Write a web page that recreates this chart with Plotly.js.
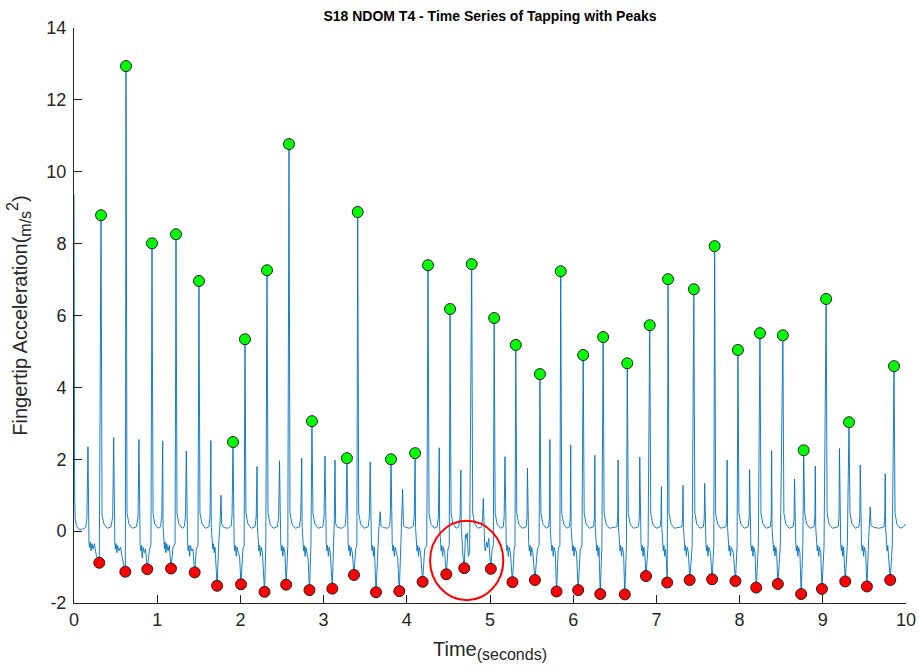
<!DOCTYPE html>
<html>
<head>
<meta charset="utf-8">
<script src="https://cdn.plot.ly/plotly-3.0.1.min.js"></script>
<style>
html,body{margin:0;padding:0;background:#fff;}
#chart{width:919px;height:670px;}
</style>
</head>
<body>
<div id="chart"></div>
<script>
// ---- Data ----
// Acceleration signal as [time (s), acceleration (m/s^2)] samples
const signalPts = [
[0.000,9.35],[0.004,3.0],[0.008,0.9],[0.015,0.35],[0.03,0.15],[0.06,0.05],[0.10,0.05],[0.14,0.10],[0.155,0.35],
[0.168,2.35],[0.173,0.10],[0.18,-0.35],[0.188,-0.45],[0.196,-0.30],[0.205,-0.55],[0.215,-0.35],[0.228,-0.50],[0.245,-0.35],[0.27,-0.70],[0.304,-0.88],[0.325,8.79],
[0.337,0.45],[0.36,0.20],[0.40,0.08],[0.445,0.12],[0.465,0.40],[0.477,2.61],
[0.482,0.10],[0.49,-0.30],[0.498,-0.50],[0.506,-0.35],[0.515,-0.60],[0.525,-0.40],[0.54,-0.55],[0.56,-0.45],[0.585,-0.80],[0.617,-1.13],[0.625,12.94],
[0.637,0.50],[0.66,0.20],[0.70,0.08],[0.75,0.12],[0.77,0.40],[0.781,2.55],
[0.786,0.10],[0.795,-0.35],[0.803,-0.55],[0.812,-0.40],[0.82,-0.75],[0.83,-0.45],[0.845,-0.60],[0.86,-0.50],[0.881,-1.06],[0.905,-0.55],[0.925,-0.35],[0.9375,8.01],
[0.95,0.50],[0.97,0.20],[1.01,0.08],[1.04,0.12],[1.055,0.40],[1.066,2.51],
[1.071,0.10],[1.08,-0.35],[1.088,-0.50],[1.096,-0.30],[1.105,-0.60],[1.115,-0.35],[1.13,-0.55],[1.145,-0.40],[1.166,-1.04],[1.19,-0.45],[1.215,-0.35],[1.226,8.26],
[1.238,0.50],[1.26,0.20],[1.30,0.08],[1.325,0.12],[1.34,0.40],[1.35,2.23],
[1.355,0.10],[1.365,-0.35],[1.373,-0.55],[1.381,-0.40],[1.39,-0.70],[1.40,-0.40],[1.415,-0.55],[1.43,-0.50],[1.45,-1.15],[1.47,-0.50],[1.49,-0.40],[1.502,6.96],
[1.514,0.50],[1.54,0.20],[1.58,0.08],[1.62,0.12],[1.635,0.40],[1.645,2.52],
[1.65,0.10],[1.66,-0.30],[1.668,-0.50],[1.676,-0.35],[1.685,-0.60],[1.695,-0.45],[1.705,-0.80],[1.72,-1.52],[1.74,-0.30],[1.755,0.20],[1.767,1.00],[1.775,0.20],[1.80,0.10],[1.85,0.08],[1.89,0.15],[1.90,0.45],[1.911,2.48],
[1.916,0.10],[1.925,-0.35],[1.933,-0.55],[1.941,-0.40],[1.95,-0.70],[1.96,-0.45],[1.975,-0.60],[1.99,-0.70],[2.007,-1.48],[2.03,-0.50],[2.045,-0.40],[2.055,5.34],
[2.067,0.50],[2.09,0.20],[2.13,0.08],[2.175,0.12],[2.19,0.40],[2.20,1.80],
[2.205,0.10],[2.215,-0.35],[2.223,-0.55],[2.231,-0.40],[2.24,-0.70],[2.25,-0.45],[2.265,-0.60],[2.29,-1.69],[2.305,-0.50],[2.32,7.26],
[2.332,0.50],[2.355,0.20],[2.395,0.08],[2.445,0.12],[2.46,0.40],[2.47,1.96],
[2.475,0.10],[2.485,-0.35],[2.493,-0.55],[2.501,-0.40],[2.51,-0.70],[2.52,-0.45],[2.535,-0.60],[2.55,-1.49],[2.57,-0.40],[2.584,10.77],
[2.596,0.50],[2.62,0.20],[2.66,0.08],[2.71,0.12],[2.725,0.40],[2.737,2.03],
[2.742,0.10],[2.752,-0.35],[2.76,-0.55],[2.768,-0.40],[2.777,-0.70],[2.787,-0.45],[2.80,-0.60],[2.815,-0.80],[2.83,-1.64],[2.848,-0.40],[2.86,3.06],
[2.872,0.50],[2.895,0.20],[2.935,0.08],[2.99,0.12],[3.005,0.40],[3.017,2.09],
[3.022,0.10],[3.032,-0.35],[3.04,-0.55],[3.048,-0.40],[3.057,-0.70],[3.067,-0.45],[3.08,-0.60],[3.105,-1.60],[3.12,-0.30],[3.128,0.20],[3.137,1.98],[3.145,0.20],[3.17,0.10],[3.22,0.08],[3.26,0.15],[3.27,0.45],[3.28,2.03],
[3.285,0.10],[3.295,-0.35],[3.303,-0.55],[3.311,-0.40],[3.32,-0.70],[3.33,-0.45],[3.345,-0.60],[3.365,-1.22],[3.385,-0.50],[3.40,-0.40],[3.41,8.88],
[3.422,0.50],[3.445,0.20],[3.485,0.08],[3.535,0.12],[3.55,0.40],[3.56,1.93],
[3.565,0.10],[3.575,-0.35],[3.583,-0.55],[3.591,-0.40],[3.60,-0.70],[3.61,-0.45],[3.63,-1.70],[3.65,-0.40],[3.665,0.10],[3.68,0.54],[3.69,0.15],[3.72,0.10],[3.77,0.08],[3.795,0.15],[3.802,0.45],[3.81,2.00],
[3.815,0.10],[3.825,-0.35],[3.833,-0.55],[3.841,-0.40],[3.85,-0.70],[3.86,-0.45],[3.875,-0.60],[3.89,-0.75],[3.91,-1.67],[3.93,-0.40],[3.94,0.10],[3.95,1.16],[3.96,0.15],[3.99,0.10],[4.04,0.08],[4.08,0.15],[4.09,0.45],[4.10,2.17],
[4.105,0.10],[4.115,-0.35],[4.123,-0.55],[4.131,-0.40],[4.14,-0.70],[4.15,-0.45],[4.165,-0.60],[4.19,-1.41],[4.215,-0.50],[4.24,-0.40],[4.255,7.40],
[4.267,0.50],[4.29,0.20],[4.33,0.08],[4.365,0.12],[4.38,0.40],[4.39,2.32],
[4.395,0.10],[4.405,-0.35],[4.413,-0.55],[4.421,-0.40],[4.43,-0.70],[4.44,-0.45],[4.455,-0.60],[4.475,-1.20],[4.495,-0.50],[4.51,-0.40],[4.52,6.18],
[4.532,0.50],[4.555,0.20],[4.595,0.08],[4.625,0.12],[4.64,0.40],[4.65,1.70],
[4.655,0.10],[4.662,-0.35],[4.668,-0.50],[4.675,-0.70],[4.69,-1.03],[4.705,-0.10],[4.715,-0.20],[4.725,-0.05],[4.74,-0.70],[4.755,-0.60],[4.78,7.43],
[4.792,0.50],[4.815,0.20],[4.855,0.08],[4.90,0.12],[4.91,0.35],[4.92,0.91],
[4.925,0.10],[4.935,-0.35],[4.943,-0.55],[4.951,-0.40],[4.96,-0.30],[4.97,-0.45],[4.985,-0.20],[4.995,-0.60],[5.01,-1.05],[5.025,-0.50],[5.04,-0.40],[5.05,5.93],
[5.062,0.50],[5.085,0.20],[5.125,0.08],[5.16,0.12],[5.17,0.40],[5.18,2.07],
[5.185,0.10],[5.195,-0.35],[5.203,-0.55],[5.211,-0.40],[5.22,-0.70],[5.23,-0.45],[5.245,-0.60],[5.27,-1.42],[5.29,-0.50],[5.30,-0.40],[5.31,5.18],
[5.322,0.50],[5.345,0.20],[5.385,0.08],[5.435,0.12],[5.445,0.40],[5.45,1.75],
[5.455,0.10],[5.465,-0.35],[5.473,-0.55],[5.481,-0.40],[5.49,-0.70],[5.50,-0.45],[5.515,-0.60],[5.54,-1.36],[5.57,-0.50],[5.59,-0.40],[5.60,4.37],
[5.612,0.50],[5.635,0.20],[5.675,0.08],[5.705,0.12],[5.715,0.40],[5.72,2.55],
[5.725,0.10],[5.735,-0.35],[5.743,-0.55],[5.751,-0.40],[5.76,-0.70],[5.77,-0.45],[5.785,-0.60],[5.80,-1.68],[5.82,-0.50],[5.84,-0.40],[5.85,7.23],
[5.862,0.50],[5.885,0.20],[5.925,0.08],[5.955,0.12],[5.965,0.40],[5.97,2.39],
[5.975,0.10],[5.985,-0.35],[5.993,-0.55],[6.001,-0.40],[6.01,-0.70],[6.02,-0.45],[6.04,-0.60],[6.06,-1.64],[6.085,-0.50],[6.105,-0.40],[6.12,4.90],
[6.132,0.50],[6.155,0.20],[6.195,0.08],[6.245,0.12],[6.255,0.40],[6.26,2.11],
[6.265,0.10],[6.275,-0.35],[6.283,-0.55],[6.291,-0.40],[6.30,-0.70],[6.31,-0.45],[6.325,-1.75],[6.345,-0.40],[6.36,5.40],
[6.372,0.50],[6.395,0.20],[6.435,0.08],[6.525,0.12],[6.535,0.40],[6.54,1.98],
[6.545,0.10],[6.555,-0.35],[6.563,-0.55],[6.571,-0.40],[6.58,-0.70],[6.59,-0.45],[6.605,-0.60],[6.62,-1.76],[6.64,-0.40],[6.65,4.67],
[6.662,0.50],[6.685,0.20],[6.725,0.08],[6.785,0.12],[6.795,0.40],[6.80,2.06],
[6.805,0.10],[6.815,-0.35],[6.823,-0.55],[6.831,-0.40],[6.84,-0.70],[6.85,-0.45],[6.86,-0.60],[6.875,-1.25],[6.90,-0.40],[6.92,5.73],
[6.932,0.50],[6.955,0.20],[6.995,0.08],[7.045,0.12],[7.055,0.35],[7.06,1.24],
[7.065,0.10],[7.075,-0.35],[7.083,-0.55],[7.091,-0.40],[7.10,-0.70],[7.11,-0.50],[7.12,-0.80],[7.13,-1.43],[7.14,7.01],
[7.152,0.50],[7.175,0.20],[7.215,0.08],[7.305,0.12],[7.315,0.35],[7.32,1.28],
[7.325,0.10],[7.335,-0.35],[7.343,-0.55],[7.351,-0.40],[7.36,-0.70],[7.37,-0.45],[7.385,-0.60],[7.40,-1.36],[7.43,-0.40],[7.45,6.73],
[7.462,0.50],[7.485,0.20],[7.525,0.08],[7.565,0.12],[7.575,0.35],[7.58,1.33],
[7.585,0.10],[7.595,-0.35],[7.603,-0.55],[7.611,-0.40],[7.62,-0.70],[7.63,-0.45],[7.65,-0.60],[7.67,-1.34],[7.69,-0.40],[7.70,7.93],
[7.712,0.50],[7.735,0.20],[7.775,0.08],[7.835,0.12],[7.845,0.40],[7.85,1.98],
[7.855,0.10],[7.865,-0.35],[7.873,-0.55],[7.881,-0.40],[7.89,-0.70],[7.90,-0.45],[7.925,-0.60],[7.95,-1.39],[7.97,-0.40],[7.98,5.04],
[7.992,0.50],[8.015,0.20],[8.055,0.08],[8.105,0.12],[8.115,0.40],[8.12,1.71],
[8.125,0.10],[8.135,-0.35],[8.143,-0.55],[8.151,-0.40],[8.16,-0.70],[8.17,-0.45],[8.185,-0.60],[8.20,-1.57],[8.225,-0.40],[8.245,5.51],
[8.257,0.50],[8.28,0.20],[8.32,0.08],[8.37,0.12],[8.38,0.40],[8.385,2.24],
[8.39,0.10],[8.40,-0.35],[8.408,-0.55],[8.416,-0.40],[8.425,-0.70],[8.435,-0.45],[8.445,-0.60],[8.46,-1.47],[8.49,-0.40],[8.52,5.45],
[8.532,0.50],[8.555,0.20],[8.595,0.08],[8.645,0.12],[8.655,0.35],[8.66,1.45],
[8.665,0.10],[8.675,-0.35],[8.683,-0.55],[8.691,-0.40],[8.70,-0.70],[8.71,-0.45],[8.725,-0.60],[8.74,-1.75],[8.76,-0.40],[8.77,2.25],
[8.782,0.50],[8.805,0.20],[8.845,0.08],[8.895,0.12],[8.905,0.40],[8.91,1.81],
[8.915,0.10],[8.925,-0.35],[8.933,-0.55],[8.941,-0.40],[8.95,-0.70],[8.96,-0.45],[8.975,-0.60],[8.99,-1.61],[9.015,-0.40],[9.04,6.46],
[9.052,0.50],[9.075,0.20],[9.115,0.08],[9.185,0.12],[9.195,0.40],[9.20,2.30],
[9.205,0.10],[9.215,-0.35],[9.223,-0.55],[9.231,-0.40],[9.24,-0.70],[9.25,-0.45],[9.27,-1.40],[9.295,-0.40],[9.315,3.03],
[9.327,0.50],[9.35,0.20],[9.39,0.08],[9.435,0.12],[9.445,0.40],[9.45,1.84],
[9.455,0.10],[9.465,-0.35],[9.473,-0.55],[9.481,-0.40],[9.49,-0.70],[9.50,-0.45],[9.515,-0.60],[9.53,-1.54],[9.55,-0.30],[9.56,0.10],[9.57,0.67],[9.58,0.15],[9.62,0.10],[9.68,0.08],[9.735,0.12],[9.745,0.40],[9.75,1.60],
[9.755,0.10],[9.765,-0.35],[9.773,-0.55],[9.781,-0.40],[9.79,-0.70],[9.81,-1.36],[9.835,-0.40],[9.856,4.59],
[9.868,0.50],[9.89,0.20],[9.93,0.08],[9.97,0.12],[10.0,0.20]
];

// Detected peaks (green)
const peakTime  = [0.325,0.625,0.9375,1.226,1.502,1.911,2.055,2.32,2.584,2.86,3.28,3.41,3.81,4.10,4.255,4.52,4.78,5.05,5.31,5.60,5.85,6.12,6.36,6.65,6.92,7.14,7.45,7.70,7.98,8.245,8.52,8.77,9.04,9.315,9.856];
const peakAccel = [8.79,12.94,8.01,8.26,6.96,2.48,5.34,7.26,10.77,3.06,2.03,8.88,2.00,2.17,7.40,6.18,7.43,5.93,5.18,4.37,7.23,4.90,5.40,4.67,5.73,7.01,6.73,7.93,5.04,5.51,5.45,2.25,6.46,3.03,4.59];

// Detected troughs (red)
const troughTime  = [0.304,0.617,0.881,1.166,1.45,1.72,2.007,2.29,2.55,2.83,3.105,3.365,3.63,3.91,4.19,4.475,4.69,5.01,5.27,5.54,5.80,6.06,6.325,6.62,6.875,7.13,7.40,7.67,7.95,8.20,8.46,8.74,8.99,9.27,9.53,9.81];
const troughAccel = [-0.88,-1.13,-1.06,-1.04,-1.15,-1.52,-1.48,-1.69,-1.49,-1.64,-1.60,-1.22,-1.70,-1.67,-1.41,-1.20,-1.03,-1.05,-1.42,-1.36,-1.68,-1.64,-1.75,-1.76,-1.25,-1.43,-1.36,-1.34,-1.39,-1.57,-1.47,-1.75,-1.61,-1.40,-1.54,-1.36];

// Highlighted region (red ellipse), in data units
const highlightT = [4.28, 5.16];
const highlightA = [-1.92, 0.29];

// Ticks
const xTickVals = [0,1,2,3,4,5,6,7,8,9,10];
const xTickText = ['0','1','2','3','4','5','6','7','8','9','10'];
const yTickVals = [-2,0,2,4,6,8,10,12,14];
const yTickText = ['-2','0','2','4','6','8','10','12','14'];

// ---- Build chart ----
const sigT = signalPts.map(p => p[0]);
const sigA = signalPts.map(p => p[1]);

const traces = [
  {x: sigT, y: sigA, type: 'scatter', mode: 'lines',
   line: {color: '#0072BD', width: 0.9}, hoverinfo: 'skip', showlegend: false},
  {x: peakTime, y: peakAccel, type: 'scatter', mode: 'markers',
   marker: {color: '#00FF00', size: 11, line: {color: '#222', width: 1}}, showlegend: false},
  {x: troughTime, y: troughAccel, type: 'scatter', mode: 'markers',
   marker: {color: '#FF0000', size: 11, line: {color: '#222', width: 1}}, showlegend: false}
];

const FONT = 'Liberation Sans, Arial, sans-serif';
const axisFont = {family: FONT, size: 18, color: '#262626'};

const layout = {
  width: 919, height: 670,
  paper_bgcolor: '#ffffff', plot_bgcolor: '#ffffff',
  margin: {l: 74, r: 13, t: 28, b: 67},
  showlegend: false,
  title: {
    text: '<b>S18 NDOM T4 - Time Series of Tapping with Peaks</b>',
    font: {family: FONT, size: 14, color: '#000'},
    x: 490/919, xanchor: 'center', xref: 'container',
    y: 1 - 16/670, yanchor: 'middle', yref: 'container'
  },
  xaxis: {
    range: [0, 10], tickvals: xTickVals, ticktext: xTickText,
    ticks: 'inside', ticklen: 8, tickwidth: 1, tickcolor: '#262626',
    showline: true, linecolor: '#262626', linewidth: 1, mirror: false,
    showgrid: false, zeroline: false, tickfont: axisFont,
    title: {text: 'Time<sub><span style="font-size:16px">(seconds)</span></sub>',
            font: {family: FONT, size: 20, color: '#262626'}, standoff: 13}
  },
  yaxis: {
    range: [-2, 14], tickvals: yTickVals, ticktext: yTickText,
    ticks: 'inside', ticklen: 8, tickwidth: 1, tickcolor: '#262626',
    ticklabelstandoff: 3,
    showline: true, linecolor: '#262626', linewidth: 1, mirror: false,
    showgrid: false, zeroline: false, tickfont: axisFont,
    title: {text: 'Fingertip Acceleration(<sub><span style="font-size:16px">m/s</span></sub><sup><span style="font-size:16px">2</span></sup>)',
            font: {family: FONT, size: 20, color: '#262626'}, standoff: 13}
  },
  shapes: [{
    type: 'circle', xref: 'x', yref: 'y',
    x0: highlightT[0], x1: highlightT[1], y0: highlightA[0], y1: highlightA[1],
    line: {color: '#FF0000', width: 2}
  }]
};

Plotly.newPlot('chart', traces, layout, {staticPlot: true, displayModeBar: false});
</script>
</body>
</html>
